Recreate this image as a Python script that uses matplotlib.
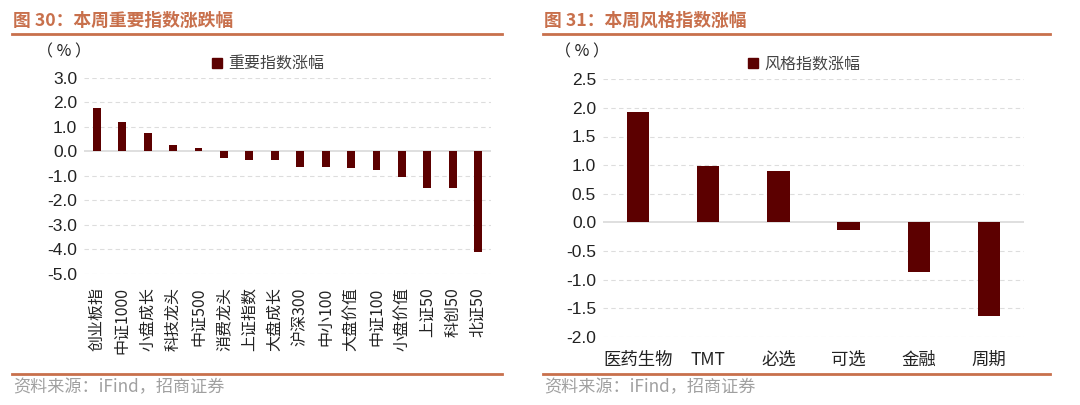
import matplotlib.pyplot as plt
from matplotlib.lines import Line2D
from matplotlib.patches import Patch

plt.rcParams['font.family'] = ['Noto Sans CJK SC', 'DejaVu Sans']

# left chart: major indices, weekly change (%)
idx_names = ['创业板指', '中证1000', '小盘成长', '科技龙头', '中证500', '消费龙头',
             '上证指数', '大盘成长', '沪深300', '中小100', '大盘价值', '中证100',
             '小盘价值', '上证50', '科创50', '北证50']
idx_chg = [1.77, 1.17, 0.74, 0.27, 0.12, -0.29, -0.35, -0.35, -0.63, -0.65,
           -0.68, -0.79, -1.07, -1.51, -1.52, -4.13]
idx_ticks = [3.0, 2.0, 1.0, 0.0, -1.0, -2.0, -3.0, -4.0, -5.0]

# right chart: style indices, weekly change (%)
style_names = ['医药生物', 'TMT', '必选', '可选', '金融', '周期']
style_chg = [1.92, 0.99, 0.89, -0.13, -0.87, -1.64]
style_ticks = [2.5, 2.0, 1.5, 1.0, 0.5, 0.0, -0.5, -1.0, -1.5, -2.0]

BAR = '#5C0000'
ACCENT = '#C8704C'
W, H = 1080, 405

fig = plt.figure(figsize=(10.8, 4.05), dpi=100)


def px_axes(x0, y0, x1, y1):
    return fig.add_axes([x0 / W, 1 - y1 / H, (x1 - x0) / W, (y1 - y0) / H])


def style_axes(ax, ticks, fmt):
    ax.set_ylim(min(ticks), max(ticks))
    ax.set_yticks(ticks)
    ax.set_yticklabels([fmt.format(t) for t in ticks], fontsize=12.5,
                       family=['Liberation Sans', 'DejaVu Sans'], color='#222222')
    for t in ticks:
        if t == 0:
            ax.axhline(0, color='#D9D9D9', lw=1.2, zorder=1)
        else:
            ax.axhline(t, color='#DDDDDD', lw=0.8, ls=(0, (4, 3)), zorder=0)
    for s in ax.spines.values():
        s.set_visible(False)
    ax.tick_params(length=0, pad=5)


def frame(x0, x1, title):
    fig.text((x0 + 1) / W, 1 - 21 / H, title, fontsize=12.8, fontweight='bold',
             color=ACCENT, va='center', ha='left')
    fig.add_artist(Line2D([x0 / W, x1 / W], [1 - 34 / H] * 2, color=ACCENT, lw=2))
    fig.add_artist(Line2D([x0 / W, x1 / W], [1 - 374 / H] * 2, color=ACCENT, lw=2))
    fig.text((x0 + 1) / W, 1 - 387 / H, '资料来源：iFind，招商证券', fontsize=12.3,
             color='#A0A0A0', va='center', ha='left')


# left
ax1 = px_axes(84, 77.7, 491, 273.5)
ax1.bar(range(len(idx_names)), idx_chg, width=0.31, color=BAR, zorder=2)
ax1.set_xlim(-0.5, len(idx_names) - 0.5)
style_axes(ax1, idx_ticks, '{:.1f}')
ax1.set_xticks(range(len(idx_names)))
ax1.set_xticklabels(idx_names, rotation=90, fontsize=11.5, color='#222222')
ax1.tick_params(axis='x', pad=10)
leg1 = ax1.legend(handles=[Patch(color=BAR, label='重要指数涨幅')], frameon=False,
                  loc='center left', bbox_to_anchor=(0.3, 1.07), fontsize=11.5,
                  handlelength=0.6, handleheight=0.6, handletextpad=0.4,
                  borderaxespad=0)
for t in leg1.get_texts():
    t.set_color('#444444')
fig.text(37 / W, 1 - 52 / H, '（ % ）', fontsize=11.5, color='#222222',
         va='center', ha='left')
frame(12, 502, '图 30：本周重要指数涨跌幅')

# right
ax2 = px_axes(603, 79.3, 1024, 336.7)
ax2.bar(range(len(style_names)), style_chg, width=0.32, color=BAR, zorder=2)
ax2.set_xlim(-0.5, len(style_names) - 0.5)
style_axes(ax2, style_ticks, '{:.1f}')
ax2.set_xticks(range(len(style_names)))
ax2.set_xticklabels(style_names, fontsize=12.5, color='#222222')
ax2.tick_params(axis='x', pad=10)
leg2 = ax2.legend(handles=[Patch(color=BAR, label='风格指数涨幅')], frameon=False,
                  loc='center left', bbox_to_anchor=(0.33, 1.06), fontsize=11.5,
                  handlelength=0.6, handleheight=0.6, handletextpad=0.4,
                  borderaxespad=0)
for t in leg2.get_texts():
    t.set_color('#444444')
fig.text(555 / W, 1 - 52 / H, '（ % ）', fontsize=11.5, color='#222222',
         va='center', ha='left')
frame(543, 1050, '图 31：本周风格指数涨幅')

fig.savefig('out.png', dpi=100)
